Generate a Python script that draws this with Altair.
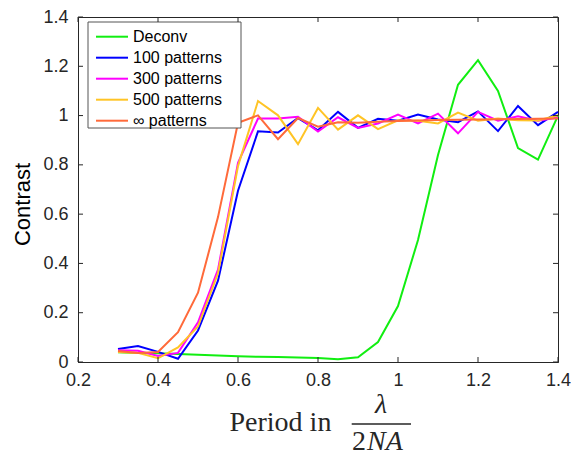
import altair as alt
import pandas as pd

periods = [0.3, 0.35, 0.4, 0.45, 0.5, 0.55, 0.6, 0.65, 0.7, 0.75, 0.8, 0.85,
           0.9, 0.95, 1.0, 1.05, 1.1, 1.15, 1.2, 1.25, 1.3, 1.35, 1.4]
deconv = [0.040, 0.037, 0.036, 0.032, 0.029, 0.026, 0.023, 0.021, 0.020, 0.018, 0.016, 0.011,
          0.019, 0.081, 0.227, 0.495, 0.840, 1.125, 1.225, 1.100, 0.868, 0.821, 1.000]
p100 = [0.053, 0.065, 0.041, 0.013, 0.128, 0.330, 0.695, 0.936, 0.931, 0.990, 0.940, 1.015,
        0.950, 0.987, 0.979, 1.004, 0.984, 0.973, 1.017, 0.937, 1.039, 0.961, 1.015]
p300 = [0.048, 0.046, 0.024, 0.037, 0.161, 0.375, 0.808, 0.988, 0.988, 0.995, 0.935, 0.993,
        0.950, 0.968, 1.004, 0.968, 1.008, 0.928, 1.015, 0.979, 0.997, 0.979, 0.992]
p500 = [0.041, 0.037, 0.015, 0.059, 0.144, 0.360, 0.795, 1.059, 1.001, 0.884, 1.031, 0.943,
        1.001, 0.945, 0.981, 0.979, 0.968, 1.012, 0.979, 0.988, 0.981, 0.980, 1.001]
pinf = [0.045, 0.037, 0.041, 0.121, 0.281, 0.588, 0.971, 1.001, 0.904, 0.990, 0.955, 0.973,
        0.971, 0.975, 0.978, 0.980, 0.982, 0.983, 0.984, 0.985, 0.986, 0.987, 0.988]

series_names = ["Deconv", "100 patterns", "300 patterns", "500 patterns", "\u221e patterns"]
series_colors = ["#11ee11", "#0000ff", "#ff00ff", "#ffc425", "#ff6a3a"]
series_values = [deconv, p100, p300, p500, pinf]

x_ticks = [0.2, 0.4, 0.6, 0.8, 1.0, 1.2, 1.4]
y_ticks = [0.0, 0.2, 0.4, 0.6, 0.8, 1.0, 1.2, 1.4]

W, H = 480, 345
AX = "#262626"
DY = -5  # shift of annotation positions relative to plot top

rows = []
for name, vals in zip(series_names, series_values):
    for i, (p, v) in enumerate(zip(periods, vals)):
        rows.append({"period": p, "contrast": v, "series": name, "order": i})
df = pd.DataFrame(rows)

xscale = alt.Scale(domain=[0.2, 1.4], nice=False, zero=False)
yscale = alt.Scale(domain=[0, 1.4], nice=False)

axis_common = dict(grid=False, tickSize=0, domainColor=AX, labelColor=AX, labelFlush=False,
                   labelOverlap=False, labelFont="Liberation Sans", labelFontSize=18, format="~g")

lines = []
for idx, (name, col) in enumerate(zip(series_names, series_colors)):
    sub = df[df.series == name]
    enc = dict(
        x=alt.X("period:Q", scale=xscale,
                axis=alt.Axis(values=x_ticks, labelPadding=9, title=None, **axis_common)),
        y=alt.Y("contrast:Q", scale=yscale,
                axis=alt.Axis(values=y_ticks, labelPadding=10, title="Contrast",
                              titleFont="Liberation Sans", titleFontSize=22,
                              titleFontWeight="normal", titleColor="black",
                              titleY=192 + DY, titlePadding=8, **axis_common)),
        order="order:Q",
    )
    if idx == 0:
        enc["color"] = alt.Color(
            "series:N",
            scale=alt.Scale(domain=series_names, range=series_colors),
            legend=alt.Legend(orient="none", legendX=25, legendY=15.7 + DY, title=None,
                              symbolType="M-2,0L2,0", symbolSize=256, symbolStrokeWidth=2,
                              labelFontSize=16, labelFont="Liberation Sans",
                              labelColor="black", rowPadding=4, padding=0, labelOffset=12),
        )
    else:
        enc["color"] = alt.Color("series:N", scale=alt.Scale(domain=series_names, range=series_colors))
    lines.append(alt.Chart(sub).mark_line(strokeWidth=2).encode(**enc))

one = pd.DataFrame({"a": [0]})

legend_box = alt.Chart(one).mark_rect(fill="white", stroke="#555555", strokeWidth=1).encode(
    x=alt.value(10), x2=alt.value(163), y=alt.value(10 + DY), y2=alt.value(116 + DY))

xt = pd.DataFrame({"t": x_ticks})
yt = pd.DataFrame({"t": y_ticks})
tick_b = alt.Chart(xt).mark_rule(color=AX, strokeWidth=1).encode(
    x=alt.X("t:Q", scale=xscale), y=alt.value(H), y2=alt.value(H - 5))
tick_t = alt.Chart(xt).mark_rule(color=AX, strokeWidth=1).encode(
    x=alt.X("t:Q", scale=xscale), y=alt.value(0), y2=alt.value(5))
tick_l = alt.Chart(yt).mark_rule(color=AX, strokeWidth=1).encode(
    y=alt.Y("t:Q", scale=yscale), x=alt.value(0), x2=alt.value(5))
tick_r = alt.Chart(yt).mark_rule(color=AX, strokeWidth=1).encode(
    y=alt.Y("t:Q", scale=yscale), x=alt.value(W), x2=alt.value(W - 5))

serif = "Liberation Serif"
t_period = alt.Chart(one).mark_text(text="Period in", font=serif, fontSize=28, align="left",
                                    baseline="alphabetic", color=AX).encode(
    x=alt.value(151.5), y=alt.value(419 + DY))
t_lambda = alt.Chart(one).mark_text(text="\u03bb", font=serif, fontSize=28, fontStyle="italic",
                                    align="center", baseline="alphabetic", color=AX).encode(
    x=alt.value(303), y=alt.value(401 + DY))
t_bar = alt.Chart(one).mark_rule(color=AX, strokeWidth=1.6).encode(
    x=alt.value(273.7), x2=alt.value(333), y=alt.value(412 + DY))
t_two = alt.Chart(one).mark_text(text="2", font=serif, fontSize=28, align="left",
                                 baseline="alphabetic", color=AX).encode(
    x=alt.value(274), y=alt.value(438 + DY))
t_na = alt.Chart(one).mark_text(text="NA", font=serif, fontSize=28, fontStyle="italic",
                                align="left", baseline="alphabetic", color=AX).encode(
    x=alt.value(289), y=alt.value(438 + DY))

chart = alt.layer(
    *lines, legend_box, tick_b, tick_t, tick_l, tick_r,
    t_period, t_lambda, t_bar, t_two, t_na
).properties(
    width=W, height=H,
    autosize=alt.AutoSizeParams(type="none"),
    padding={"left": 70, "top": 9, "right": 13, "bottom": 94},
).configure_view(stroke=AX, strokeWidth=1).resolve_scale(color="shared")

chart.save("out.html", embed_options={"renderer": "svg", "actions": False})
